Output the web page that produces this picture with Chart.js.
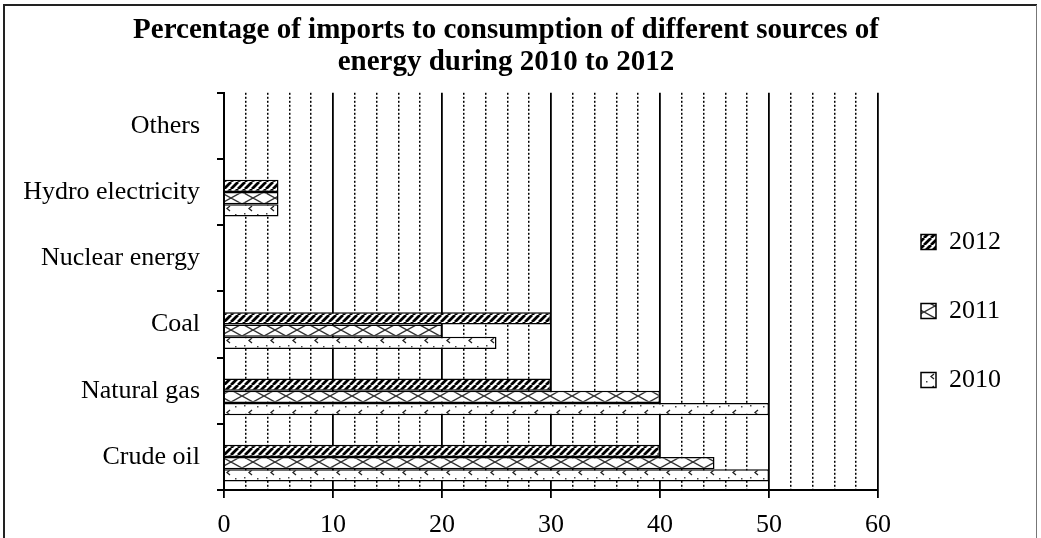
<!DOCTYPE html>
<html><head><meta charset="utf-8">
<script src="https://cdn.jsdelivr.net/npm/chart.js@4/dist/chart.umd.min.js"></script>
<style>html,body{margin:0;padding:0;background:#fff}#wrap{width:1041px;height:538px;position:relative}</style>
</head><body><div id="wrap"><canvas id="c" width="1041" height="538"></canvas></div>
<script>
// ---- data (categories listed top to bottom as drawn) ----
const categories = ['Others', 'Hydro electricity', 'Nuclear energy', 'Coal', 'Natural gas', 'Crude oil'];
const seriesNames = ['2012', '2011', '2010'];
const values2012 = [0, 5, 0, 30, 30, 40];
const values2011 = [0, 5, 0, 20, 40, 45];
const values2010 = [0, 5, 0, 25, 50, 50];
const xMin = 0, xMax = 60, majorStep = 10, minorStep = 2;
const titleLines = ['Percentage of imports to consumption of different sources of', 'energy during 2010 to 2012'];

const FONT = 'Liberation Serif';
const cv = document.getElementById('c');
const ctx = cv.getContext('2d');

function makeTile(w, h, draw) {
  const c = document.createElement('canvas');
  c.width = w; c.height = h;
  const g = c.getContext('2d');
  g.fillStyle = '#fff'; g.fillRect(0, 0, w, h);
  draw(g, w, h);
  return ctx.createPattern(c, 'repeat');
}
const pat2012 = makeTile(7, 7, (g, s) => {
  g.strokeStyle = '#000'; g.lineWidth = 2.8;
  g.beginPath();
  for (let k = -1; k <= 1; k++) { g.moveTo(k * s, s); g.lineTo(k * s + s, 0); }
  g.stroke();
});
const pat2011 = makeTile(22, 12, (g, w, h) => {
  g.strokeStyle = '#333'; g.lineWidth = 1.4;
  g.beginPath();
  g.moveTo(0, 0); g.lineTo(w, h);
  g.moveTo(w, 0); g.lineTo(0, h);
  g.stroke();
});
const pat2010 = makeTile(22, 12, (g) => {
  g.strokeStyle = '#222'; g.lineWidth = 1.3;
  g.beginPath();
  g.moveTo(10, 2); g.lineTo(7, 4.5); g.lineTo(10, 7);
  g.stroke();
  g.fillStyle = '#444';
  g.fillRect(2, 9, 1.5, 1.5);
  g.fillRect(15, 10, 1.5, 1.5);
});
const patterns = [pat2012, pat2011, pat2010];
const seriesValues = [values2012, values2011, values2010];

const frame = {
  id: 'frame',
  beforeDraw(chart) {
    const c = chart.ctx;
    c.save();
    c.fillStyle = '#fff'; c.fillRect(0, 0, chart.width, chart.height);
    c.restore();
  },
  afterDraw(chart) {
    const c = chart.ctx;
    c.save();
    c.strokeStyle = '#222'; c.lineWidth = 2;
    c.beginPath();
    c.moveTo(4, 540); c.lineTo(4, 5); c.lineTo(1037, 5);
    c.stroke();
    c.strokeStyle = '#777'; c.lineWidth = 1;
    c.beginPath(); c.moveTo(1036.5, 5); c.lineTo(1036.5, 540); c.stroke();
    c.restore();
  }
};

const datasets = [{ label: '', data: [], xAxisID: 'x', backgroundColor: 'rgba(0,0,0,0)', borderWidth: 0,
  categoryPercentage: 0.74, barPercentage: 1.0 }];
seriesNames.forEach((name, i) => {
  datasets.push({
    label: name,
    data: seriesValues[i],
    xAxisID: 'x',
    backgroundColor: patterns[i],
    borderColor: '#000',
    borderWidth: 1.5,
    categoryPercentage: 0.74,
    barPercentage: 1.0
  });
});

new Chart(cv, {
  type: 'bar',
  data: { labels: categories, datasets },
  plugins: [frame],
  options: {
    indexAxis: 'y',
    responsive: false,
    devicePixelRatio: 1,
    animation: false,
    layout: { padding: { top: 5, left: 4, right: 33, bottom: 1 } },
    plugins: {
      title: {
        display: true,
        text: titleLines,
        color: '#000',
        font: { family: FONT, size: 29, weight: 'bold', lineHeight: 1.1 },
        padding: { top: 10, bottom: 14 }
      },
      legend: {
        position: 'right',
        align: 'start',
        maxWidth: 130,
        title: { display: true, text: ' ', font: { size: 1, lineHeight: 1 }, padding: { top: 180, bottom: 0 } },
        labels: {
          color: '#000',
          font: { family: FONT, size: 26 },
          boxWidth: 15,
          boxHeight: 15,
          padding: 43,
          filter: (item) => item.text !== ''
        }
      },
      tooltip: { enabled: false }
    },
    scales: {
      x: {
        type: 'linear',
        min: xMin,
        max: xMax,
        position: 'bottom',
        ticks: {
          stepSize: majorStep,
          color: '#000',
          padding: 12,
          maxRotation: 0,
          font: { family: FONT, size: 26 }
        },
        grid: { color: '#000', lineWidth: 1.8, tickLength: 8 },
        border: { color: '#000', width: 2 },
        afterFit: (s) => { s.height = 47; }
      },
      x2: {
        type: 'linear',
        axis: 'x',
        min: xMin,
        max: xMax,
        position: 'bottom',
        ticks: { display: false, stepSize: minorStep, autoSkip: false },
        grid: {
          drawTicks: false,
          lineWidth: 1.5,
          color: (c) => (c.tick && c.tick.value % majorStep !== 0 ? '#000' : 'rgba(0,0,0,0)')
        },
        border: { display: false, dash: [2, 2] }
      },
      y: {
        type: 'category',
        offset: true,
        ticks: { color: '#000', padding: 17, font: { family: FONT, size: 26 } },
        grid: { drawOnChartArea: false, offset: true, tickLength: 7, color: '#000', lineWidth: 2 },
        border: { color: '#000', width: 2 },
        afterFit: (s) => { s.width = 220; }
      }
    }
  }
});
</script></body></html>
